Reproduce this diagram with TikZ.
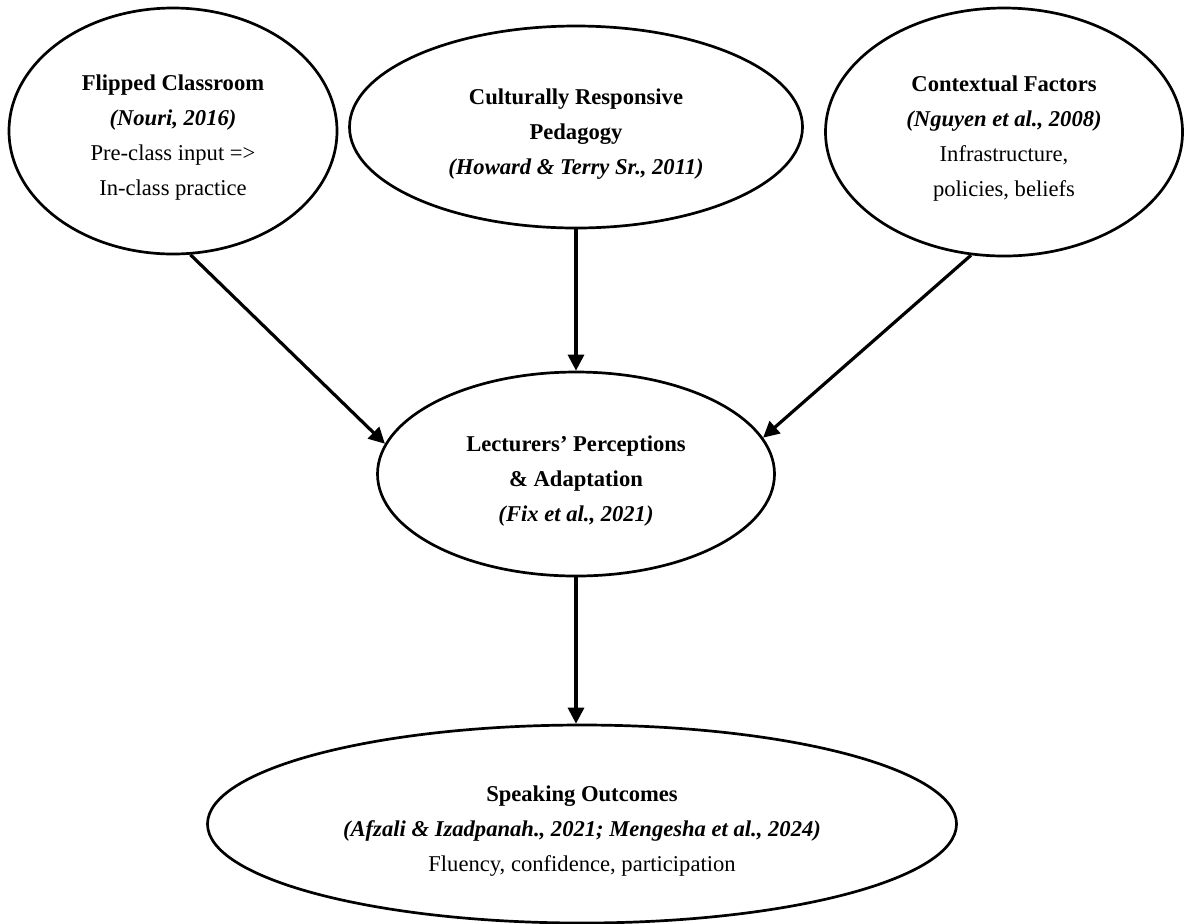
\documentclass[tikz,border=0pt]{standalone}
\usepackage{fontspec}
\setmainfont{Liberation Serif}
\usetikzlibrary{arrows.meta,positioning,shapes.geometric}

\newcommand{\lift}{\rule{0pt}{14.5pt}}
\tikzset{
  bubble/.style={ellipse, draw, line width=1.35pt, inner sep=0pt, align=center,
    font=\fontsize{11.3}{17.5}\selectfont},
  link/.style={-{Triangle[length=8pt,width=8pt]}, line width=1.6pt}
}

\begin{document}
\begin{tikzpicture}[x=0.5pt,y=-0.5pt]
  \useasboundingbox (0,0) rectangle (1186,923);

  % top row
  \node[bubble, minimum width=164pt, minimum height=123pt] (flip) at (173,131)
    {\lift\textbf{Flipped Classroom}\\\textbf{\textit{(Nouri, 2016)}}\\Pre-class input =>\\In-class practice};
  \node[bubble, minimum width=226.5pt, minimum height=101pt] (cult) at (576,127)
    {\lift\textbf{Culturally Responsive}\\\textbf{Pedagogy}\\\textbf{\textit{(Howard \& Terry Sr., 2011)}}};
  \node[bubble, minimum width=178.5pt, minimum height=124pt] (ctx) at (1004,132)
    {\lift\textbf{Contextual Factors}\\\textbf{\textit{(Nguyen et al., 2008)}}\\Infrastructure,\\policies, beliefs};

  % middle and bottom
  \node[bubble, minimum width=198.5pt, minimum height=102pt] (lect) at (576,474)
    {\lift\textbf{Lecturers' Perceptions}\\\textbf{\& Adaptation}\\\textbf{\textit{(Fix et al., 2021)}}};
  \node[bubble, minimum width=374.5pt, minimum height=99pt] (speak) at (582,824)
    {\lift\textbf{Speaking Outcomes}\\\textbf{\textit{(Afzali \& Izadpanah., 2021; Mengesha et al., 2024)}}\\Fluency, confidence, participation};

  \draw[link] (flip.-82) -- (lect.171);
  \draw[link] (cult.south) -- (lect.north);
  \draw[link] (ctx.-105) -- (lect.11);
  \draw[link] (lect.south) -- (lect.south |- speak.north);
\end{tikzpicture}
\end{document}
